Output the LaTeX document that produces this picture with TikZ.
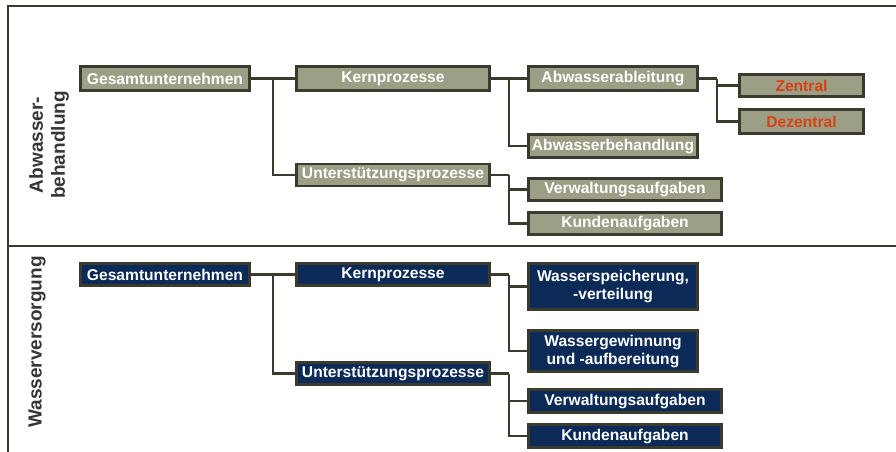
\documentclass[tikz,border=0pt]{standalone}
\usepackage{fontspec}
\setmainfont{Liberation Sans}
\definecolor{grayfill}{HTML}{9D9E86}
\definecolor{edge}{HTML}{3A3B2E}
\definecolor{navy}{HTML}{0B2A58}
\definecolor{redtxt}{HTML}{D9400F}
\definecolor{labeltxt}{HTML}{353535}
\tikzset{
  basebox/.style={draw=edge, line width=2.8pt, inner sep=0pt, align=center, text=white,
    font=\fontsize{15.6}{18}\selectfont\bfseries},
  gbox/.style={basebox, fill=grayfill},
  nbox/.style={basebox, fill=navy},
  conn/.style={draw=edge, line width=2.8pt},
  frameline/.style={draw=edge, line width=2pt},
  sidelabel/.style={rotate=90, align=center, text=labeltxt,
    font=\fontsize{19}{22}\selectfont\bfseries}
}
\begin{document}
\begin{tikzpicture}[x=1pt,y=-1pt]
\useasboundingbox (0,0) rectangle (896,452);
% frame
\draw[frameline] (896,6) -- (8,6) -- (8,452);
\draw[frameline] (8,246) -- (896,246);
% side labels
\node[sidelabel] (lab1) at (49,145) {Abwasser-\\behandlung};
\node[sidelabel] (lab2) at (37,342) {Wasserversorgung};
% ---- top section (gray)
\node[gbox, minimum width=169pt, minimum height=24pt] (g1) at (165,78.5) {Gesamtunternehmen};
\node[gbox, minimum width=193pt, minimum height=24pt] (k1) at (393,78.5) {Kernprozesse};
\node[gbox, minimum width=193pt, minimum height=22pt] (u1) at (393,175) {Unterstützungsprozesse};
\node[gbox, minimum width=169pt, minimum height=24pt] (aa) at (613,78.5) {Abwasserableitung};
\node[gbox, minimum width=169pt, minimum height=23pt] (ab) at (613,146) {Abwasserbehandlung};
\node[gbox, minimum width=193pt, minimum height=22pt] (v1) at (625,189.5) {Verwaltungsaufgaben};
\node[gbox, minimum width=193pt, minimum height=22pt] (ku1) at (625,223.5) {Kundenaufgaben};
\node[gbox, text=redtxt, minimum width=124pt, minimum height=22pt] (z) at (801.5,85.5) {Zentral};
\node[gbox, text=redtxt, minimum width=124pt, minimum height=24pt] (dz) at (801.5,121.5) {Dezentral};
\coordinate (b1) at (273,78.5);
\coordinate (b2) at (509,78.5);
\coordinate (b3) at (509,175);
\coordinate (b4) at (717,78.5);
\draw[conn] (g1) -- (k1);
\draw[conn] (b1) |- (u1);
\draw[conn] (k1) -- (aa);
\draw[conn] (b2) |- (ab);
\draw[conn] (u1) -- (b3);
\draw[conn] (b3) |- (v1);
\draw[conn] (b3) |- (ku1);
\draw[conn] (aa) -- (b4);
\draw[conn] (b4) |- (z);
\draw[conn] (b4) |- (dz);
% ---- bottom section (navy)
\node[nbox, minimum width=169pt, minimum height=22pt] (g2) at (165,274.5) {Gesamtunternehmen};
\node[nbox, minimum width=193pt, minimum height=22pt] (k2) at (393,274.5) {Kernprozesse};
\node[nbox, minimum width=193pt, minimum height=22pt] (u2) at (393,373.5) {Unterstützungsprozesse};
\node[nbox, minimum width=169pt, minimum height=46pt] (ws) at (613,286.5) {Wasserspeicherung,\\-verteilung};
\node[nbox, minimum width=169pt, minimum height=41pt] (wg) at (613,351) {Wassergewinnung\\und -aufbereitung};
\node[nbox, minimum width=193pt, minimum height=23pt] (v2) at (625,401) {Verwaltungsaufgaben};
\node[nbox, minimum width=193pt, minimum height=23pt] (ku2) at (625,436) {Kundenaufgaben};
\coordinate (c1) at (273,274.5);
\coordinate (c2) at (509,274.5);
\coordinate (c3) at (509,373.5);
\draw[conn] (g2) -- (k2);
\draw[conn] (c1) |- (u2);
\draw[conn] (k2) -- (c2);
\draw[conn] (c2) |- (ws);
\draw[conn] (c2) |- (wg);
\draw[conn] (u2) -- (c3);
\draw[conn] (c3) |- (v2);
\draw[conn] (c3) |- (ku2);
\end{tikzpicture}
\end{document}
